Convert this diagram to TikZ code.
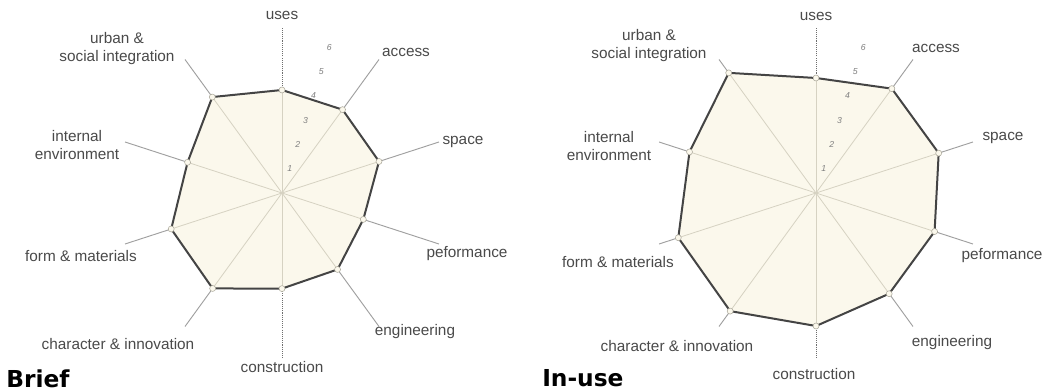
\documentclass[tikz,border=0pt]{standalone}
\usepackage{fontspec}
\setmainfont{Liberation Sans}
\newfontfamily\titlefont{DejaVu Sans}
\usepackage{xcolor}
\definecolor{cream}{HTML}{FBF8EC}
\definecolor{rimgray}{HTML}{444444}
\definecolor{axisgray}{HTML}{A0A0A0}
\definecolor{innergray}{HTML}{D6D2C2}
\definecolor{labelgray}{HTML}{4A4A4A}

\begin{document}
\begin{tikzpicture}[x=0.75pt,y=0.75pt,
    lbl/.style={font=\fontsize{11.5}{13.5}\selectfont, text=labelgray, align=center, inner sep=0pt},
    ttl/.style={font=\titlefont\bfseries\fontsize{17.5}{20}\selectfont, anchor=base west, inner sep=0pt},
    axisline/.style={axisgray, line width=0.7pt},
    axisdot/.style={labelgray!80, line width=0.7pt, dash pattern=on 0.8pt off 0.8pt},
    innerline/.style={innergray, line width=0.6pt},
    rim/.style={rimgray, line width=1.5pt, line join=round},
    vtx/.style={circle, fill=cream, draw=innergray!80!black, line width=0.4pt, inner sep=0pt, minimum size=4.5pt},
    scalelbl/.style={font=\fontsize{6.5}{6.5}\selectfont\itshape, text=axisgray!80!black, inner sep=0pt}]
  \useasboundingbox (0,0) rectangle (1047,392);
  \fill[white] (0,0) rectangle (1047,392);

  % brief
  \begin{scope}[shift={(282,199)}]
    \coordinate (bc) at (0,0);
    \foreach \a/\r/\s [count=\i] in {90/103/axisdot, 54/103/axisline, 18/102/axisline, -18/85.5/axisline,
        -54/94.5/axisline, -90/95.6/axisdot, -126/118/axisline, -162/116.5/axisline,
        162/99.3/axisline, 126/118.6/axisline} {
      \draw[\s] (bc) -- (\a:165);
      \coordinate (b\i) at (\a:\r);
    }
    \fill[cream] (b1) -- (b2) -- (b3) -- (b4) -- (b5) -- (b6) -- (b7) -- (b8) -- (b9) -- (b10) -- cycle;
    \foreach \i in {1,...,10}
      \draw[innerline] (bc) -- (b\i);
    \draw[rim] (b1) -- (b2) -- (b3) -- (b4) -- (b5) -- (b6) -- (b7) -- (b8) -- (b9) -- (b10) -- cycle;
    \foreach \i in {1,...,10}
      \node[vtx] (bv\i) at (b\i) {};
    \foreach \k in {1,...,6}
      \node[scalelbl] (bs\k) at (72:{25.5*\k}) {\k};
  \end{scope}
  \node[lbl] (buses) at (282,377) {uses};
  \node[lbl] (baccess) at (406,340) {access};
  \node[lbl] (bspace) at (463,250) {space};
  \node[lbl] (bperf) at (467,138) {peformance};
  \node[lbl] (beng) at (415,60) {engineering};
  \node[lbl] (bcons) at (282,25) {construction};
  \node[lbl] (bchar) at (118,48) {character \& innovation};
  \node[lbl] (bform) at (81,136) {form \& materials};
  \node[lbl] (bint) at (77,247) {internal\\environment};
  \node[lbl] (burb) at (117,343) {urban \&\\social integration};
  \node[ttl] (brief) at (6,4) {Brief};

  % in-use
  \begin{scope}[shift={(816,199)}]
    \coordinate (uc) at (0,0);
    \foreach \a/\r/\s [count=\i] in {90/115/axisdot, 54/129/axisline, 18/129/axisline, -18/124.7/axisline,
        -54/124.5/axisline, -90/133/axisdot, -126/146/axisline, -162/144.8/axisline,
        162/133/axisline, 126/148.5/axisline} {
      \draw[\s] (uc) -- (\a:165);
      \coordinate (u\i) at (\a:\r);
    }
    \fill[cream] (u1) -- (u2) -- (u3) -- (u4) -- (u5) -- (u6) -- (u7) -- (u8) -- (u9) -- (u10) -- cycle;
    \foreach \i in {1,...,10}
      \draw[innerline] (uc) -- (u\i);
    \draw[rim] (u1) -- (u2) -- (u3) -- (u4) -- (u5) -- (u6) -- (u7) -- (u8) -- (u9) -- (u10) -- cycle;
    \foreach \i in {1,...,10}
      \node[vtx] (uv\i) at (u\i) {};
    \foreach \k in {1,...,6}
      \node[scalelbl] (us\k) at (72:{25.5*\k}) {\k};
  \end{scope}
  \node[lbl] (uuses) at (816,376) {uses};
  \node[lbl] (uaccess) at (936,344) {access};
  \node[lbl] (uspace) at (1003,254) {space};
  \node[lbl] (uperf) at (1002,136) {peformance};
  \node[lbl] (ueng) at (952,49) {engineering};
  \node[lbl] (ucons) at (814,18) {construction};
  \node[lbl] (uchar) at (677,46) {character \& innovation};
  \node[lbl] (uform) at (618,130) {form \& materials};
  \node[lbl] (uint) at (609,246) {internal\\environment};
  \node[lbl] (uurb) at (649,346) {urban \&\\social integration};
  \node[ttl] (inuse) at (542,5) {In-use};
\end{tikzpicture}
\end{document}
